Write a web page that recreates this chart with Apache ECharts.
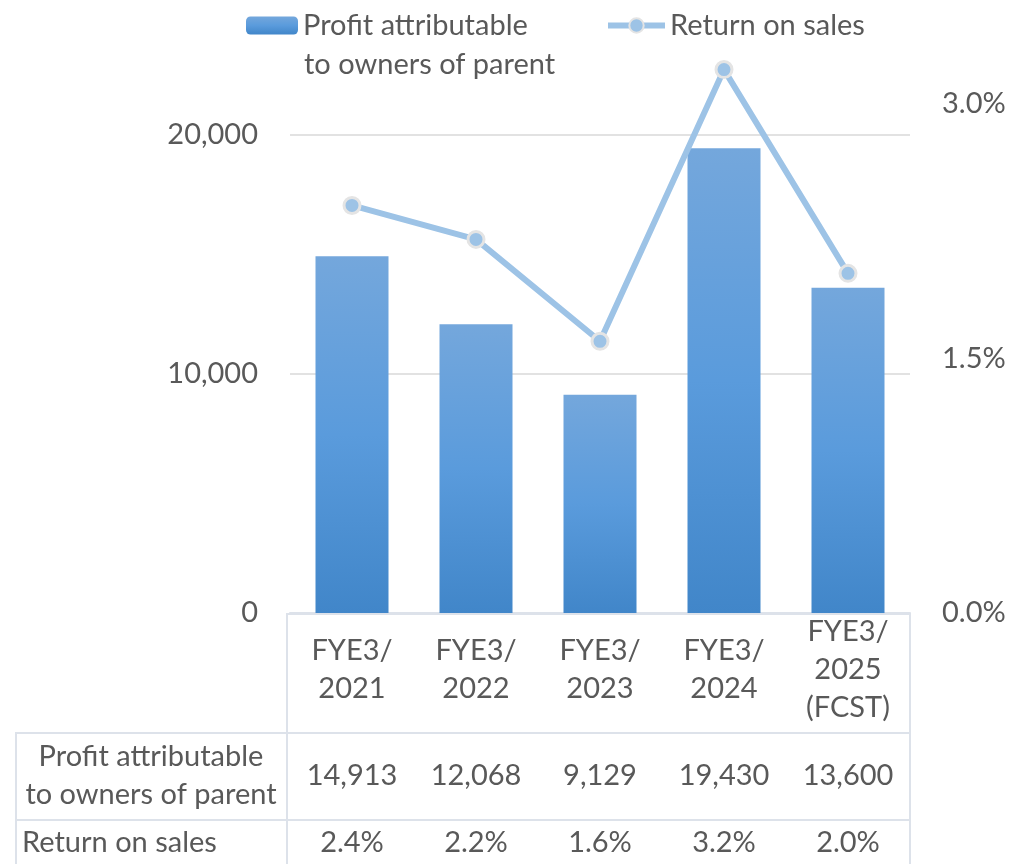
<!DOCTYPE html>
<html>
<head>
<meta charset="utf-8">
<script src="https://cdn.jsdelivr.net/npm/echarts@6/dist/echarts.min.js"></script>
<style>
html, body { margin: 0; padding: 0; background: #fff; }
#main { width: 1010px; height: 864px; }
</style>
</head>
<body>
<div id="main"></div>
<script>
// data
var categories = ['FYE3/\n2021', 'FYE3/\n2022', 'FYE3/\n2023', 'FYE3/\n2024', 'FYE3/\n2025\n(FCST)'];
var profit = [14913, 12068, 9129, 19430, 13600];
var returnOnSales = [2.4, 2.2, 1.6, 3.2, 2.0];
var seriesNames = ['Profit attributable\nto owners of parent', 'Return on sales'];

var FONT = 'Lato';
var FS = 29;
var TXT = '#595959';
var LINE = '#DDE2EA';

var profitText = profit.map(function (v) { return v.toLocaleString('en-US'); });
var rosText = returnOnSales.map(function (v) { return v.toFixed(1) + '%'; });
var barNameLines = seriesNames[0].split('\n');

function hLine(x1, x2, y) {
    return { type: 'line', shape: { x1: x1, y1: y, x2: x2, y2: y }, style: { stroke: LINE, lineWidth: 2 }, silent: true };
}
function vLine(x, y1, y2) {
    return { type: 'line', shape: { x1: x, y1: y1, x2: x, y2: y2 }, style: { stroke: LINE, lineWidth: 2 }, silent: true };
}

var chart = echarts.init(document.getElementById('main'));
chart.setOption({
    animation: false,
    textStyle: { fontFamily: FONT, color: TXT },
    grid: { left: 290, right: 100, top: 39, bottom: 251, containLabel: false },
    legend: [{
        data: [seriesNames[0]],
        left: 246, top: 11, padding: 0,
        itemWidth: 52, itemHeight: 18,
        formatter: function () { return barNameLines[0]; },
        textStyle: { fontSize: FS, color: TXT, fontFamily: FONT }
    }, {
        data: [seriesNames[1]],
        left: 605, top: 11, padding: 0,
        itemWidth: 57, itemHeight: 18,
        lineStyle: { width: 6 },
        textStyle: { fontSize: FS, color: TXT, fontFamily: FONT }
    }],
    xAxis: [{
        type: 'category',
        data: categories,
        axisLine: { show: true, lineStyle: { color: LINE, width: 2 } },
        axisTick: { show: false },
        axisLabel: { fontSize: FS, color: TXT, lineHeight: 38, margin: 57, verticalAlign: 'middle', interval: 0 }
    }, {
        type: 'category', position: 'bottom',
        data: profitText,
        axisLine: { show: false }, axisTick: { show: false },
        axisLabel: { fontSize: FS, color: TXT, margin: 163, verticalAlign: 'middle', interval: 0 }
    }, {
        type: 'category', position: 'bottom',
        data: rosText,
        axisLine: { show: false }, axisTick: { show: false },
        axisLabel: { fontSize: FS, color: TXT, margin: 230, verticalAlign: 'middle', interval: 0 }
    }],
    yAxis: [{
        type: 'value', min: 0, max: 24000, interval: 10000,
        axisLine: { show: false }, axisTick: { show: false },
        axisLabel: {
            fontSize: FS, color: TXT, margin: 32, showMaxLabel: false,
            formatter: function (v) { return v.toLocaleString('en-US'); }
        },
        splitLine: { show: true, showMaxLine: false, lineStyle: { color: '#D9D9D9', width: 1.5 } }
    }, {
        type: 'value', min: 0, max: 3.38, interval: 1.5,
        axisLine: { show: false }, axisTick: { show: false },
        axisLabel: {
            fontSize: FS, color: TXT, margin: 32, showMaxLabel: false,
            formatter: function (v) { return v.toFixed(1) + '%'; }
        },
        splitLine: { show: false }
    }],
    series: [{
        name: seriesNames[0],
        type: 'bar',
        data: profit,
        barWidth: 73,
        itemStyle: {
            color: new echarts.graphic.LinearGradient(0, 0, 0, 1, [
                { offset: 0, color: '#74A7DC' },
                { offset: 0.5, color: '#5A9BDC' },
                { offset: 1, color: '#4186C9' }
            ])
        }
    }, {
        name: seriesNames[1],
        type: 'line',
        yAxisIndex: 1,
        data: returnOnSales,
        symbol: 'circle',
        symbolSize: 16,
        clip: false,
        lineStyle: { color: '#9DC3E6', width: 6 },
        itemStyle: { color: '#9DC3E6', borderColor: '#E4E4E4', borderWidth: 3 }
    }],
    graphic: [
        hLine(287, 911, 614),
        hLine(15, 911, 733),
        hLine(15, 911, 820),
        vLine(16, 732, 864),
        vLine(287, 613, 864),
        vLine(910, 613, 864),
        {
            type: 'text', silent: true,
            style: {
                text: barNameLines[1], x: 304, y: 65, align: 'left', verticalAlign: 'middle',
                fontSize: FS, fill: TXT, fontFamily: FONT
            }
        },
        {
            type: 'text', silent: true,
            style: {
                text: seriesNames[0], x: 151, y: 776, align: 'center', verticalAlign: 'middle',
                fontSize: FS, lineHeight: 38, fill: TXT, fontFamily: FONT
            }
        },
        {
            type: 'text', silent: true,
            style: {
                text: seriesNames[1], x: 22, y: 843, align: 'left', verticalAlign: 'middle',
                fontSize: FS, fill: TXT, fontFamily: FONT
            }
        }
    ]
});
</script>
</body>
</html>
